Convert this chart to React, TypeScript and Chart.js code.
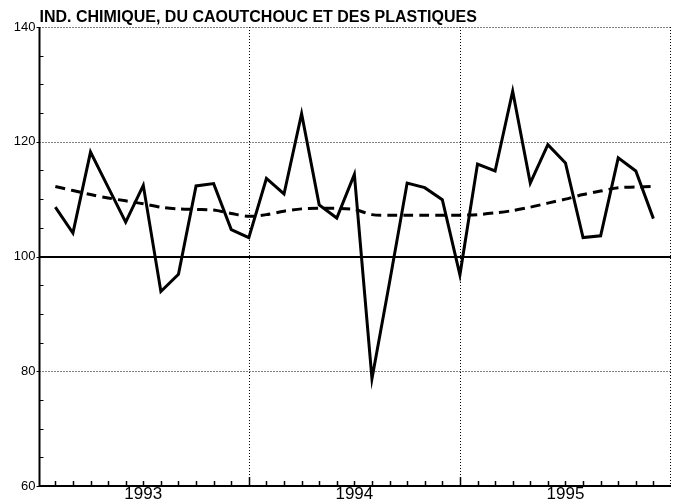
import React, { useEffect, useRef } from 'react';
import { Chart, registerables } from 'chart.js';

Chart.register(...registerables);

const titleText = 'IND. CHIMIQUE, DU CAOUTCHOUC ET DES PLASTIQUES';

// Monthly observations, Jan 1993 .. Nov 1995 (x = month index)
const months = [
  '1993-01', '1993-02', '1993-03', '1993-04', '1993-05', '1993-06', '1993-07', '1993-08', '1993-09', '1993-10', '1993-11', '1993-12',
  '1994-01', '1994-02', '1994-03', '1994-04', '1994-05', '1994-06', '1994-07', '1994-08', '1994-09', '1994-10', '1994-11', '1994-12',
  '1995-01', '1995-02', '1995-03', '1995-04', '1995-05', '1995-06', '1995-07', '1995-08', '1995-09', '1995-10', '1995-11',
];

const rawSeries = [
  108.6, 104.1, 118.2, 112.1, 106.0, 112.4, 93.9, 96.9, 112.3, 112.7, 104.7, 103.3,
  113.6, 110.9, 124.9, 109.0, 106.7, 114.3, 78.7, 95.5, 112.8, 112.0, 109.9, 96.8,
  116.1, 114.9, 128.8, 112.8, 119.5, 116.3, 103.3, 103.6, 117.2, 114.9, 106.6,
];

const trendSeries = [
  112.2, 111.5, 110.8, 110.2, 109.7, 109.2, 108.6, 108.3, 108.2, 108.1, 107.5, 107.0,
  107.3, 107.9, 108.3, 108.4, 108.4, 108.2, 107.3, 107.2, 107.2, 107.2, 107.2, 107.2,
  107.3, 107.6, 108.0, 108.6, 109.3, 110.0, 110.8, 111.4, 112.0, 112.1, 112.2,
];

const yTickValues = [60, 80, 100, 120, 140];
const yDottedLines = [80, 120, 140];
const yBaseLine = 100;
const yMinorTicks = [65, 70, 75, 85, 90, 95, 105, 110, 115, 125, 130, 135];
const yearLabels = ['1993', '1994', '1995'];
const yearLabelPos = [5, 17, 29];
const yearBoundaries = [11, 23];
const xMin = -0.9;
const xMax = 35;

const FONT = "'Liberation Sans', Arial, Helvetica, sans-serif";

const framePlugin = {
  id: 'frame',
  beforeDatasetsDraw(chart: any) {
    const { ctx, chartArea: a, scales } = chart;
    const x = scales.x;
    const y = scales.y;
    ctx.save();
    ctx.strokeStyle = '#000';
    // dotted grid lines
    ctx.lineWidth = 1;
    ctx.setLineDash([1, 2]);
    for (const v of yDottedLines) {
      const py = Math.round(y.getPixelForValue(v)) + 0.5;
      ctx.beginPath();
      ctx.moveTo(a.left, py);
      ctx.lineTo(a.right, py);
      ctx.stroke();
    }
    for (const v of yearBoundaries) {
      const px = Math.round(x.getPixelForValue(v)) + 0.5;
      ctx.beginPath();
      ctx.moveTo(px, a.top);
      ctx.lineTo(px, a.bottom);
      ctx.stroke();
    }
    {
      const px = Math.round(a.right) - 0.5;
      ctx.beginPath();
      ctx.moveTo(px, a.top);
      ctx.lineTo(px, a.bottom);
      ctx.stroke();
    }
    ctx.setLineDash([]);
    // base line at 100
    ctx.lineWidth = 2;
    const pb = Math.round(y.getPixelForValue(yBaseLine));
    ctx.beginPath();
    ctx.moveTo(a.left, pb);
    ctx.lineTo(a.right, pb);
    ctx.stroke();
    // axes
    ctx.beginPath();
    ctx.moveTo(a.left, a.top);
    ctx.lineTo(a.left, a.bottom);
    ctx.lineTo(a.right, a.bottom);
    ctx.stroke();
    // y minor ticks (inside)
    ctx.lineWidth = 1;
    for (const v of yMinorTicks) {
      const py = Math.round(y.getPixelForValue(v)) + 0.5;
      ctx.beginPath();
      ctx.moveTo(a.left, py);
      ctx.lineTo(a.left + 4, py);
      ctx.stroke();
    }
    // y major ticks (outside)
    for (const v of yTickValues) {
      const py = Math.round(y.getPixelForValue(v)) + 0.5;
      ctx.beginPath();
      ctx.moveTo(a.left - 3, py);
      ctx.lineTo(a.left, py);
      ctx.stroke();
    }
    // x month ticks (inside)
    ctx.lineWidth = 1.5;
    for (let i = 0; i < months.length; i++) {
      const px = Math.round(x.getPixelForValue(i)) + 0.5;
      const len = yearBoundaries.includes(i) ? 9 : 5;
      ctx.beginPath();
      ctx.moveTo(px, a.bottom);
      ctx.lineTo(px, a.bottom - len);
      ctx.stroke();
    }
    ctx.restore();
  },
};

export default function App() {
  const ref = useRef<HTMLCanvasElement | null>(null);

  useEffect(() => {
    document.body.style.margin = '0';
    const canvas = ref.current;
    if (!canvas) return;
    const chart = new Chart(canvas, {
      type: 'line',
      data: {
        datasets: [
          {
            data: rawSeries.map((v, i) => ({ x: i, y: v })),
            borderColor: '#000',
            borderWidth: 3,
            pointRadius: 0,
            tension: 0,
            borderJoinStyle: 'miter',
            fill: false,
          },
          {
            data: trendSeries.map((v, i) => ({ x: i, y: v })),
            borderColor: '#000',
            borderWidth: 3,
            borderDash: [10, 6],
            pointRadius: 0,
            tension: 0.3,
            fill: false,
          },
        ],
      },
      options: {
        animation: false,
        responsive: false,
        maintainAspectRatio: false,
        layout: { padding: { left: 0, right: 2, top: 0, bottom: 0 } },
        plugins: {
          legend: { display: false },
          tooltip: { enabled: false },
          title: {
            display: true,
            text: titleText,
            align: 'start',
            fullSize: false,
            color: '#000',
            font: { family: FONT, size: 16, weight: 'bold', lineHeight: 1 },
            padding: { top: 10, bottom: 1 },
          },
        },
        scales: {
          x: {
            type: 'linear',
            min: xMin,
            max: xMax,
            grid: { display: false, drawTicks: false },
            border: { display: false },
            afterBuildTicks: (s: any) => {
              s.ticks = yearLabelPos.map((v) => ({ value: v }));
            },
            afterFit: (s: any) => {
              s.height = 16;
            },
            ticks: {
              autoSkip: false,
              maxRotation: 0,
              padding: 0,
              color: '#000',
              font: { family: FONT, size: 17, lineHeight: 1 },
              callback: (v: any) => {
                const k = yearLabelPos.indexOf(Number(v));
                return k >= 0 ? yearLabels[k] : '';
              },
            },
          },
          y: {
            min: 60,
            max: 140,
            grid: { display: false, drawTicks: false },
            border: { display: false },
            afterBuildTicks: (s: any) => {
              s.ticks = yTickValues.map((v) => ({ value: v }));
            },
            afterFit: (s: any) => {
              s.width = 39.5;
            },
            ticks: {
              padding: 4,
              color: '#000',
              font: { family: FONT, size: 13 },
            },
          },
        },
      } as any,
      plugins: [framePlugin],
    });
    return () => chart.destroy();
  }, []);

  return (
    <div style={{ width: 673, height: 502 }}>
      <canvas ref={ref} width={673} height={502} style={{ display: 'block', width: 673, height: 502 }} />
    </div>
  );
}
